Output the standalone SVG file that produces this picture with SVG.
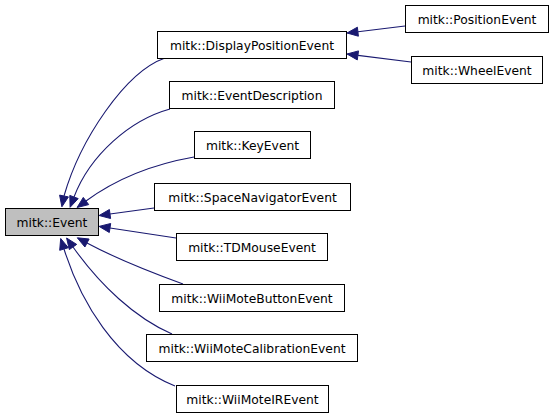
<svg xmlns="http://www.w3.org/2000/svg" width="555" height="417" viewBox="0 0 555 417">
<style>
.node rect{fill:#ffffff;stroke:#000000;stroke-width:1}
.node.root rect{fill:#bfbfbf}
.node text{font-family:"DejaVu Sans","Liberation Sans",sans-serif;font-size:12.3px;fill:#000000;text-anchor:middle}
.edges path{fill:none;stroke:#191970;stroke-width:1.1}
.edges polygon{fill:#191970;stroke:#191970;stroke-width:1}
</style>
<rect width="555" height="417" fill="#ffffff"/>
<g class="edges" id="connectors">
<path d="M165,58 C125,72 80,140 64,196"/>
<polygon points="61.9,206.8 68.4,196.9 59.6,195.1"/>
<path d="M170,109 C130,120 90,155 74,197"/>
<polygon points="70.1,207.3 78.2,198.6 69.8,195.4"/>
<path d="M194,157 C160,163 120,176 86,201"/>
<polygon points="77.1,207.5 88.7,204.6 83.3,197.4"/>
<path d="M154,208 L110,214"/>
<polygon points="99.1,215.5 110.6,218.5 109.4,209.5"/>
<path d="M176,238 L110,228"/>
<polygon points="99.1,226.4 109.3,232.5 110.7,223.5"/>
<path d="M183,284 C150,272 115,258 87,243"/>
<polygon points="77.3,237.8 84.9,247 89.1,239"/>
<path d="M172,334 C135,318 100,285 73,247"/>
<polygon points="66.6,238 69.3,249.6 76.7,244.4"/>
<path d="M175,386 C115,362 80,300 64,249"/>
<polygon points="60.7,238.5 59.7,250.3 68.3,247.7"/>
<path d="M405,26 L358,31.7"/>
<polygon points="347,33 358.4,36.2 357.4,27.2"/>
<path d="M411,62 L358,55.4"/>
<polygon points="347,54 357.3,59.9 358.5,50.9"/>
</g>
<g class="node root" id="node-event"><rect x="5.5" y="208.5" width="93" height="27"/><text x="52" y="226.5">mitk::Event</text></g>
<g class="node" id="node-displaypositionevent"><rect x="157.5" y="31.5" width="189" height="27"/><text x="252" y="49.5">mitk::DisplayPositionEvent</text></g>
<g class="node" id="node-eventdescription"><rect x="169.5" y="81.5" width="165" height="27"/><text x="252" y="99.5">mitk::EventDescription</text></g>
<g class="node" id="node-keyevent"><rect x="194.5" y="131.5" width="116" height="27"/><text x="252.5" y="149.5">mitk::KeyEvent</text></g>
<g class="node" id="node-spacenavigatorevent"><rect x="154.5" y="183.5" width="196" height="27"/><text x="252.5" y="201.5">mitk::SpaceNavigatorEvent</text></g>
<g class="node" id="node-tdmouseevent"><rect x="176.5" y="233.5" width="151" height="27"/><text x="252" y="251.5">mitk::TDMouseEvent</text></g>
<g class="node" id="node-wiimotebuttonevent"><rect x="159.5" y="284.5" width="185" height="27"/><text x="252" y="302.5">mitk::WiiMoteButtonEvent</text></g>
<g class="node" id="node-wiimotecalibrationevent"><rect x="146.5" y="334.5" width="211" height="27"/><text x="252" y="352.5">mitk::WiiMoteCalibrationEvent</text></g>
<g class="node" id="node-wiimoteirevent"><rect x="176.5" y="385.5" width="152" height="27"/><text x="252.5" y="403.5">mitk::WiiMoteIREvent</text></g>
<g class="node" id="node-positionevent"><rect x="405.5" y="5.5" width="143" height="27"/><text x="477" y="23.5">mitk::PositionEvent</text></g>
<g class="node" id="node-wheelevent"><rect x="411.5" y="56.5" width="131" height="27"/><text x="477" y="74.5">mitk::WheelEvent</text></g>
</svg>
